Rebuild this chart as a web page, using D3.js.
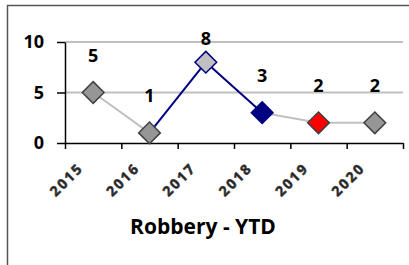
<!DOCTYPE html>
<html>
<head>
<meta charset="utf-8">
<script src="https://cdnjs.cloudflare.com/ajax/libs/d3/7.8.5/d3.min.js"></script>
<style>
  body { margin: 0; background: #fff; }
  svg { display: block; }
  text { font-family: "Open Sans", "Liberation Sans", sans-serif; font-weight: bold; }
</style>
</head>
<body>
<svg id="chart" width="409" height="265"></svg>
<script>
// chart values
var years = ['2015', '2016', '2017', '2018', '2019', '2020'];
var robbery = [5, 1, 8, 3, 2, 2];
var yTicks = [0, 5, 10];
var chartTitle = 'Robbery - YTD';

// per point / per segment colours (Excel-style manual formatting)
var markerFill = ['#969696', '#969696', '#c0c0c0', '#000080', '#ff0000', '#969696'];
var markerStroke = ['#404040', '#404040', '#000080', '#000080', '#404040', '#404040'];
var segColor = ['#c0c0c0', '#000080', '#000080', '#c0c0c0', '#c0c0c0'];

var svg = d3.select('#chart');

// plot area edges (note: "top" is taken by window.top)
var plotLeft = 65, plotRight = 403, plotTop = 42, plotBottom = 143;

var x = d3.scaleBand().domain(years).range([plotLeft, plotRight]);
var xEdge = d3.scaleLinear().domain([0, years.length]).range([plotLeft, plotRight]);
var y = d3.scaleLinear().domain([0, 10]).range([plotBottom, plotTop]);

// outer frame (top + left only visible)
svg.append('path')
    .attr('d', 'M7.5,265V5.5H409')
    .attr('fill', 'none')
    .attr('stroke', '#555')
    .attr('stroke-width', 1.5);

// gridlines
svg.append('g')
    .selectAll('line')
    .data(yTicks.filter(function (d) { return d > 0; }))
    .enter()
    .append('line')
    .attr('x1', plotLeft).attr('x2', plotRight)
    .attr('y1', function (d) { return y(d); })
    .attr('y2', function (d) { return y(d); })
    .attr('stroke', '#c0c0c0')
    .attr('stroke-width', 2);

// y axis
var yAxis = svg.append('g')
    .attr('transform', 'translate(' + plotLeft + ',0)')
    .call(d3.axisLeft(y).tickValues(yTicks).tickSize(8).tickSizeOuter(0).tickPadding(13));
yAxis.select('.domain').attr('stroke', '#000').attr('stroke-width', 1.5);
yAxis.selectAll('.tick line').attr('stroke', '#000').attr('stroke-width', 1.5);
yAxis.selectAll('.tick text')
    .attr('font-family', '"Open Sans", sans-serif')
    .attr('font-weight', 'bold')
    .attr('font-size', 18)
    .attr('fill', '#000');

// x axis (ticks at category edges)
var xAxis = svg.append('g')
    .attr('transform', 'translate(0,' + plotBottom + ')')
    .call(d3.axisBottom(xEdge).tickValues(d3.range(years.length + 1)).tickFormat('').tickSize(6).tickSizeOuter(0));
xAxis.select('.domain').attr('stroke', '#000').attr('stroke-width', 1.5);
xAxis.selectAll('.tick line').attr('stroke', '#000').attr('stroke-width', 1.5);

// rotated category labels
svg.append('g')
    .selectAll('text')
    .data(years)
    .enter()
    .append('text')
    .attr('transform', function (d) {
        return 'translate(' + (x(d) + x.bandwidth() / 2 - 9) + ',' + (plotBottom + 26) + ') rotate(-45)';
    })
    .attr('text-anchor', 'end')
    .attr('font-size', 14)
    .attr('letter-spacing', 2)
    .attr('fill', '#222')
    .attr('stroke', '#444')
    .attr('stroke-width', 0.6)
    .text(function (d) { return d; });

// line segments
var pts = years.map(function (d, i) {
    return [x(d) + x.bandwidth() / 2, y(robbery[i])];
});
svg.append('g')
    .selectAll('line')
    .data(pts.slice(1))
    .enter()
    .append('line')
    .attr('x1', function (d, i) { return pts[i][0]; })
    .attr('y1', function (d, i) { return pts[i][1]; })
    .attr('x2', function (d) { return d[0]; })
    .attr('y2', function (d) { return d[1]; })
    .attr('stroke', function (d, i) { return segColor[i]; })
    .attr('stroke-width', 2);

// diamond markers
var diamond = d3.symbol().type(d3.symbolDiamond2).size(300);
svg.append('g')
    .selectAll('path')
    .data(pts)
    .enter()
    .append('path')
    .attr('d', diamond)
    .attr('transform', function (d) { return 'translate(' + d[0] + ',' + d[1] + ')'; })
    .attr('fill', function (d, i) { return markerFill[i]; })
    .attr('stroke', function (d, i) { return markerStroke[i]; })
    .attr('stroke-width', 1.5);

// data labels
svg.append('g')
    .selectAll('text')
    .data(pts)
    .enter()
    .append('text')
    .attr('x', function (d) { return d[0]; })
    .attr('y', function (d) { return Math.max(d[1] - 37, 39); })
    .attr('dy', '0.35em')
    .attr('text-anchor', 'middle')
    .attr('font-size', 18)
    .attr('fill', '#000')
    .text(function (d, i) { return robbery[i]; });

// title
svg.append('text')
    .attr('x', 203)
    .attr('y', 234)
    .attr('text-anchor', 'middle')
    .attr('font-size', 21)
    .attr('fill', '#000')
    .text(chartTitle);
</script>
</body>
</html>
